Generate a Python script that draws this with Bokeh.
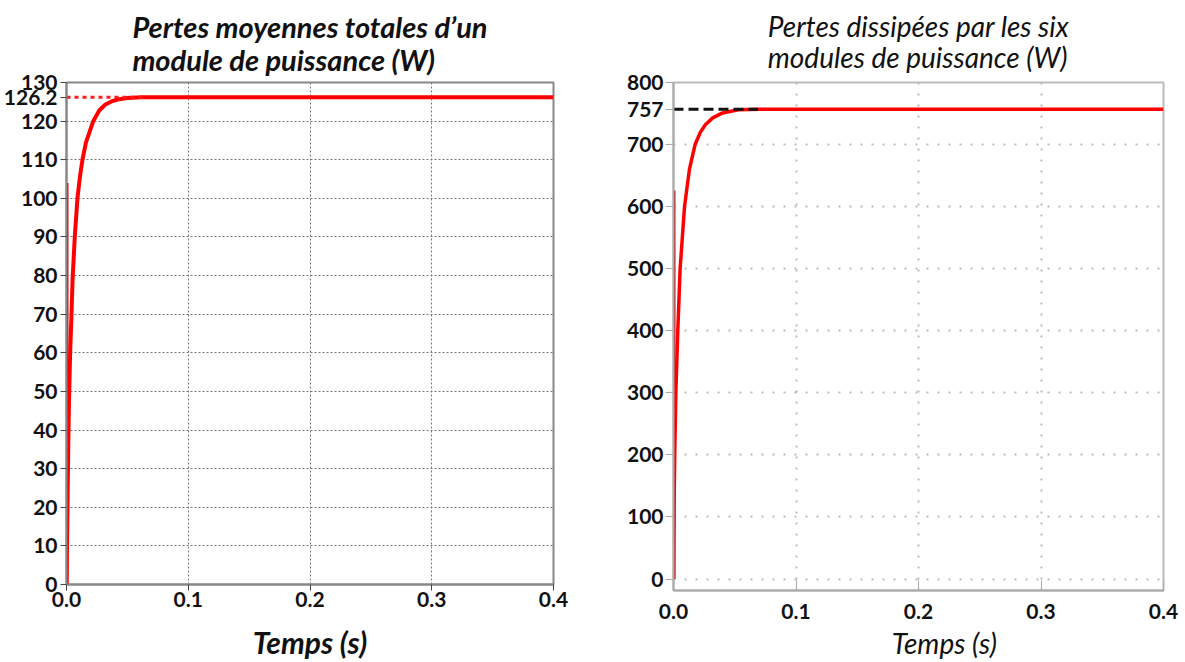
from bokeh.plotting import figure
from bokeh.layouts import row
from bokeh.models import FixedTicker, Range1d
from bokeh.embed import file_html
from bokeh.resources import INLINE

# ---- data ----
t_module = [0, 0.0005, 0.001, 0.0015, 0.002, 0.003, 0.004, 0.005, 0.0068, 0.009, 0.011,
            0.0131, 0.016, 0.022, 0.027, 0.032, 0.037, 0.042, 0.050, 0.062, 0.080, 0.12,
            0.2, 0.3, 0.4]
p_module = [0, 12, 25, 37, 47, 60, 69, 79, 90, 100, 105.5, 110, 114.5, 120, 122.8, 124.3,
            125.1, 125.6, 126.0, 126.2, 126.2, 126.2, 126.2, 126.2, 126.2]
spike_t = [0.0008, 0.0008]
spike_module = [0, 104]
ref_module_t = [0, 0.064]
ref_module = [126.2, 126.2]

t_six = [0, 0.0005, 0.001, 0.0019, 0.0035, 0.0054, 0.009, 0.013, 0.0176, 0.022, 0.026,
         0.032, 0.040, 0.053, 0.07, 0.12, 0.2, 0.3, 0.4]
p_six = [0, 120, 200, 300, 400, 500, 600, 660, 700, 720, 732, 743, 751, 756, 757, 757,
         757, 757, 757]
spike_six = [0, 626]
ref_six_t = [0, 0.069]
ref_six = [757, 757]

x_ticks = [0.0, 0.1, 0.2, 0.3, 0.4]
x_labels = ["0.0", "0.1", "0.2", "0.3", "0.4"]
y_ticks_module = [0, 10, 20, 30, 40, 50, 60, 70, 80, 90, 100, 110, 120, 130]
y_ticks_six = [0, 100, 200, 300, 400, 500, 600, 700, 800]
mark_module = 126.2
mark_six = 757

FONT = "Lato"

# ---- left figure ----
p1 = figure(frame_width=487, frame_height=502, output_backend="svg", toolbar_location=None,
            x_range=Range1d(0, 0.4), y_range=Range1d(0, 130),
            min_border_left=60, min_border_right=59, min_border_top=82, min_border_bottom=0)
p1.title.text = "Pertes moyennes totales d\u2019un\nmodule de puissance (W)"
p1.title.align = "center"
p1.title.vertical_align = "top"
p1.title.text_font = FONT
p1.title.text_font_size = "29px"
p1.title.text_font_style = "bold italic"
p1.title.text_color = "#111111"
p1.title.text_line_height = 0.95
p1.title.standoff = 8

p1.xaxis.ticker = FixedTicker(ticks=x_ticks)
p1.yaxis.ticker = FixedTicker(ticks=y_ticks_module + [mark_module])
p1.xaxis.major_label_overrides = dict(zip(x_ticks, x_labels))
p1.yaxis.major_label_overrides = {mark_module: str(mark_module)}
p1.xaxis.axis_label = "Temps (s)"
for ax in (p1.xaxis, p1.yaxis):
    ax.major_label_text_font = FONT
    ax.major_label_text_font_style = "bold"
    ax.major_label_text_font_size = "21px"
    ax.major_label_text_color = "#111111"
    ax.axis_line_color = "#888888"
    ax.axis_line_width = 2
    ax.major_tick_line_color = "#444444"
    ax.major_tick_out = 6
    ax.major_tick_in = 0
    ax.minor_tick_line_color = None
p1.yaxis.major_label_standoff = 3
p1.xaxis.major_label_standoff = 1
p1.xaxis.axis_label_text_font = FONT
p1.xaxis.axis_label_text_font_size = "30px"
p1.xaxis.axis_label_text_font_style = "bold italic"
p1.xaxis.axis_label_text_color = "#111111"
p1.xaxis.axis_label_standoff = 14
p1.outline_line_color = "#888888"
p1.outline_line_width = 2
p1.xgrid.ticker = FixedTicker(ticks=x_ticks)
p1.ygrid.ticker = FixedTicker(ticks=y_ticks_module)
for g in (p1.xgrid, p1.ygrid):
    g.grid_line_color = "#777777"
    g.grid_line_dash = "2 2"
    g.grid_line_width = 1

p1.line(spike_t, spike_module, line_color="#cc0000", line_width=2)
p1.line(t_module, p_module, line_color="#ff0000", line_width=4)
p1.line(ref_module_t, ref_module, line_color="#ff1a1a", line_width=3, line_dash="4 4")

# ---- right figure ----
p2 = figure(frame_width=490, frame_height=508, output_backend="svg", toolbar_location=None,
            x_range=Range1d(0, 0.4), y_range=Range1d(-18.5, 800),
            min_border_left=61, min_border_right=15, min_border_top=81, min_border_bottom=0)
p2.title.text = "Pertes dissip\u00e9es par les six\nmodules de puissance (W)"
p2.title.align = "center"
p2.title.vertical_align = "top"
p2.title.text_font = FONT
p2.title.text_font_size = "28px"
p2.title.text_font_style = "italic"
p2.title.text_color = "#111111"
p2.title.text_line_height = 0.9
p2.title.standoff = 13

p2.xaxis.ticker = FixedTicker(ticks=x_ticks)
p2.yaxis.ticker = FixedTicker(ticks=y_ticks_six + [mark_six])
p2.xaxis.major_label_overrides = dict(zip(x_ticks, x_labels))
p2.xaxis.axis_label = "\u00a0" * 8 + "Temps (s)"
for ax in (p2.xaxis, p2.yaxis):
    ax.major_label_text_font = FONT
    ax.major_label_text_font_style = "bold"
    ax.major_label_text_font_size = "21px"
    ax.major_label_text_color = "#111111"
    ax.axis_line_color = "#aaaaaa"
    ax.axis_line_width = 2
    ax.major_tick_line_color = "#aaaaaa"
    ax.minor_tick_line_color = None
p2.yaxis.major_tick_out = 8
p2.yaxis.major_tick_in = 0
p2.yaxis.major_label_standoff = 2
p2.xaxis.major_tick_out = 0
p2.xaxis.major_tick_in = 10
p2.xaxis.major_label_standoff = 13
p2.xaxis.axis_label_text_font = FONT
p2.xaxis.axis_label_text_font_size = "28px"
p2.xaxis.axis_label_text_font_style = "italic"
p2.xaxis.axis_label_text_color = "#111111"
p2.xaxis.axis_label_standoff = 4
p2.outline_line_color = "#bbbbbb"
p2.outline_line_width = 2
p2.xgrid.ticker = FixedTicker(ticks=x_ticks)
p2.ygrid.ticker = FixedTicker(ticks=y_ticks_six)
for g in (p2.xgrid, p2.ygrid):
    g.grid_line_color = "#bbbbbb"
    g.grid_line_dash = "2 9"
    g.grid_line_width = 2

p2.line(spike_t, spike_six, line_color="#cc0000", line_width=2)
p2.line(t_six, p_six, line_color="#ff0000", line_width=3.5)
p2.line(ref_six_t, ref_six, line_color="#111111", line_width=3, line_dash="10 5")

layout = row(p1, p2)
open("out.html", "w").write(file_html(layout, INLINE))
